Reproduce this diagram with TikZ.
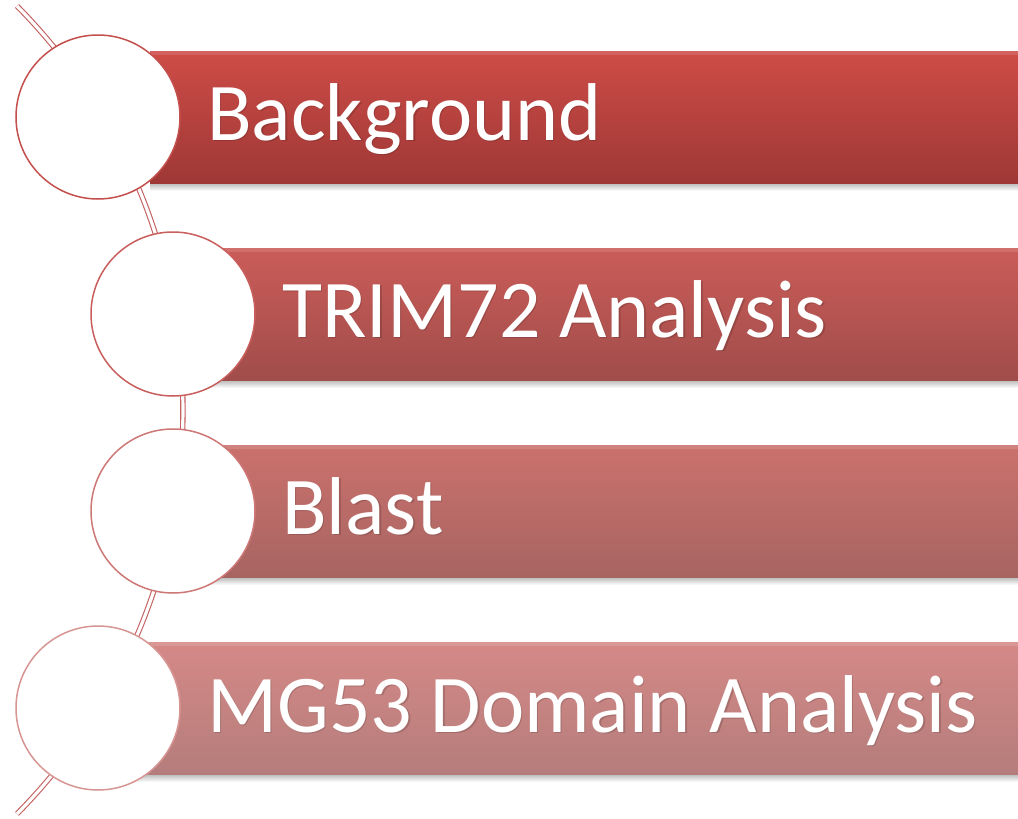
\documentclass[tikz,border=0pt]{standalone}
\usepackage{fontspec}
\setmainfont{Carlito}
\definecolor{barAt}{RGB}{206,76,71}\definecolor{barAb}{RGB}{158,56,54}
\definecolor{barBt}{RGB}{203,92,88}\definecolor{barBb}{RGB}{160,77,75}
\definecolor{barCt}{RGB}{203,113,109}\definecolor{barCb}{RGB}{167,101,98}
\definecolor{barDt}{RGB}{213,137,135}\definecolor{barDb}{RGB}{180,125,123}
\definecolor{ringA}{RGB}{196,80,78}\definecolor{ringB}{RGB}{200,95,93}
\definecolor{ringC}{RGB}{205,120,118}\definecolor{ringD}{RGB}{215,150,148}
\definecolor{arcc}{RGB}{196,95,95}
\tikzset{
  ring/.style={circle, minimum size=164pt, inner sep=0pt, fill=white, line width=1.5pt},
  arcline/.style={draw=arcc, line width=1.1pt, double=white, double distance=3.2pt},
  lbl/.style={anchor=base west, text=white, inner sep=0pt, font=\fontsize{82}{82}\selectfont},
  lblshadow/.style={anchor=base west, text=black, opacity=0.15, inner sep=0pt, font=\fontsize{82}{82}\selectfont},
  barshadow/.style={top color=black!28, bottom color=white},
}
\begin{document}
\begin{tikzpicture}[x=1pt,y=-1pt]
\useasboundingbox[fill=white] (0,0) rectangle (1018,819);
% arc (curved spine)
\draw[arcline] (17,6) arc[start angle=-44.67, end angle=44.67, radius=574.6];
% bars
\foreach \l/\t/\b/\top in {150/barAt/barAb/51, 173/barBt/barBb/248, 173/barCt/barCb/445, 98/barDt/barDb/642}{
  \shade[barshadow] (\l,\top+132) rectangle (1018,\top+140);
  \shade[top color=\t, bottom color=\b] (\l,\top) rectangle (1018,\top+132);
  \fill[white, opacity=0.12] (\l,\top) rectangle (1018,\top+4);
}
% circles
\node[ring, draw=ringA] (c1) at (98,117) {};
\node[ring, draw=ringB] (c2) at (173,314) {};
\node[ring, draw=ringC] (c3) at (173,511) {};
\node[ring, draw=ringD] (c4) at (98,708) {};
% labels
\node[lblshadow] (s1) at (208.5,141.5) {Background};
\node[lbl] (t1) at (207,140) {Background};
\node[lblshadow] (s2) at (283.5,338.5) {TRIM72 Analysis};
\node[lbl] (t2) at (282,337) {TRIM72 Analysis};
\node[lblshadow] (s3) at (283.5,535.5) {Blast};
\node[lbl] (t3) at (282,534) {Blast};
\node[lblshadow] (s4) at (208.5,733.5) {MG53 Domain Analysis};
\node[lbl] (t4) at (207,732) {MG53 Domain Analysis};
\end{tikzpicture}
\end{document}
